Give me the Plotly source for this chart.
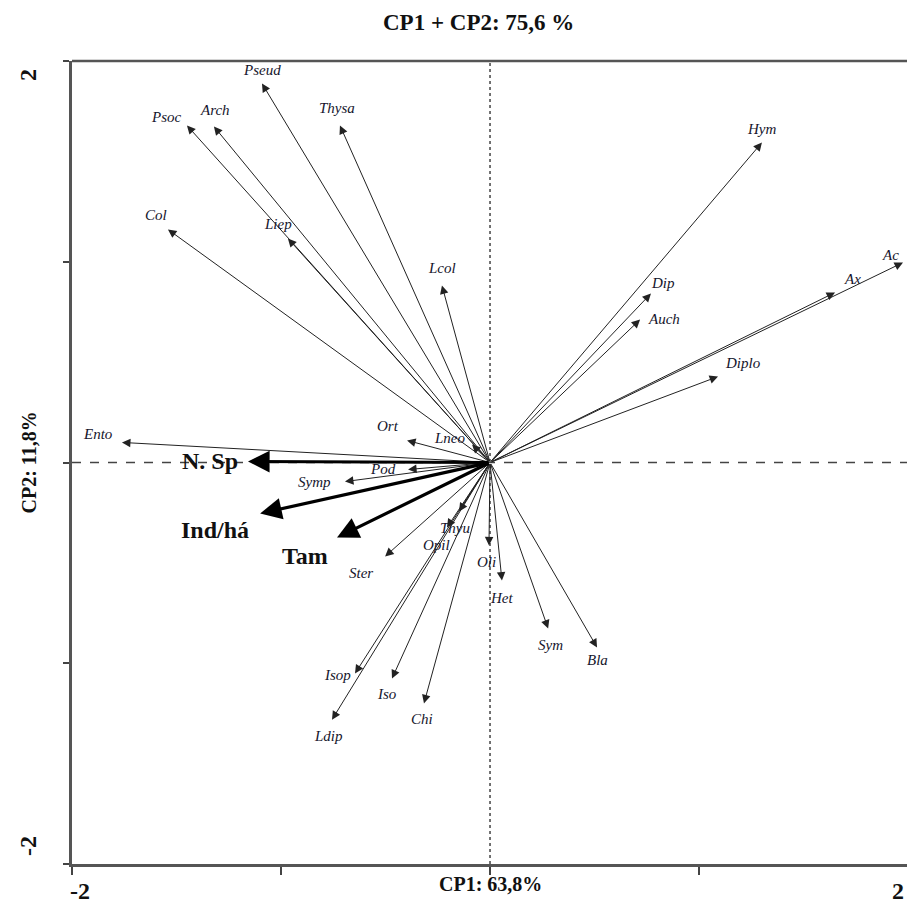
import plotly.graph_objects as go

# Taxa loadings on the first two principal components
taxa = ["Pseud", "Psoc", "Arch", "Thysa", "Col", "Liep", "Lcol", "Hym", "Dip",
        "Auch", "Ax", "Ac", "Diplo", "Ento", "Ort", "Lneo", "Pod", "Symp",
        "Ster", "Thyu", "Opil", "Oli", "Het", "Sym", "Bla", "Isop", "Iso",
        "Chi", "Ldip"]
taxa_cp1 = [-1.091, -1.450, -1.321, -0.718, -1.541, -0.967, -0.230, 1.301, 0.770,
            0.718, 1.651, 1.976, 1.091, -1.761, -0.397, -0.086, -0.392, -0.694,
            -0.502, -0.148, -0.206, -0.005, 0.057, 0.278, 0.512, -0.646, -0.469,
            -0.316, -0.756]
taxa_cp2 = [1.888, 1.679, 1.674, 1.679, 1.161, 1.116, 0.882, 1.594, 0.842,
            0.712, 0.847, 0.996, 0.428, 0.100, 0.110, 0.090, -0.035, -0.095,
            -0.468, -0.244, -0.324, -0.413, -0.588, -0.827, -0.921, -1.051, -1.076,
            -1.200, -1.281]

# Community descriptors (bold vectors)
descriptors = ["N. Sp", "Ind/há", "Tam"]
desc_cp1 = [-1.158, -1.100, -0.732]
desc_cp2 = [0.005, -0.254, -0.374]

axis_ticks = [-2, -1, 0, 1, 2]
title_text = "CP1 + CP2: 75,6 %"
x_title = "CP1: 63,8%"
y_title = "CP2: 11,8%"

# label offsets from the arrow tip, in pixels (dx right, dy down)
taxa_offsets = {
    "Pseud": (0, -13), "Psoc": (-20, -8), "Arch": (1, -16), "Thysa": (-3, -17),
    "Col": (-12, -14), "Liep": (-10, -14), "Lcol": (0, -17), "Hym": (0, -14),
    "Dip": (12, -10), "Auch": (24, -1), "Ax": (17, -13), "Ac": (-13, -8),
    "Diplo": (25, -14), "Ento": (-24, -8), "Ort": (-19, -14), "Lneo": (-22, -6),
    "Pod": (-25, -1), "Symp": (-30, 0), "Ster": (-24, 17), "Thyu": (-4, 17),
    "Opil": (-10, 17), "Oli": (-2, 17), "Het": (0, 17), "Sym": (2, 16),
    "Bla": (0, 13), "Isop": (-18, 2), "Iso": (-5, 15), "Chi": (-2, 16),
    "Ldip": (-4, 16),
}
desc_offsets = {"N. Sp": (-38, -1), "Ind/há": (-45, 17), "Tam": (-32, 18)}

SERIF = "Liberation Serif, Times New Roman, serif"
INK = "#15152c"
LINE = "#222222"
DARK = "#111111"


def text_note(text, x, y, xref, yref, size, dx=0, dy=0, angle=0):
    return dict(x=x, y=y, xref=xref, yref=yref, text=text, showarrow=False,
                xanchor="center", yanchor="middle", xshift=dx, yshift=-dy,
                textangle=angle, font=dict(family=SERIF, size=size, color=DARK))


fig = go.Figure()
# invisible trace to anchor axes
fig.add_trace(go.Scatter(x=[0], y=[0], mode="markers",
                         marker=dict(size=1, color="rgba(0,0,0,0)"),
                         hoverinfo="skip", showlegend=False))

annotations = []
for name, x, y in zip(taxa, taxa_cp1, taxa_cp2):
    annotations.append(dict(
        x=x, y=y, ax=0, ay=0, xref="x", yref="y", axref="x", ayref="y",
        text="", showarrow=True, arrowhead=2, arrowsize=1.7, arrowwidth=1,
        arrowcolor=LINE, standoff=0))
    dx, dy = taxa_offsets[name]
    annotations.append(dict(
        x=x, y=y, xref="x", yref="y", text="<i>%s</i>" % name,
        showarrow=False, xanchor="center", yanchor="middle",
        xshift=dx, yshift=-dy,
        font=dict(family=SERIF, size=15, color=INK)))

for name, x, y in zip(descriptors, desc_cp1, desc_cp2):
    annotations.append(dict(
        x=x, y=y, ax=0, ay=0, xref="x", yref="y", axref="x", ayref="y",
        text="", showarrow=True, arrowhead=2, arrowsize=1.35, arrowwidth=3.2,
        arrowcolor="#000000", standoff=0))
    dx, dy = desc_offsets[name]
    annotations.append(dict(
        x=x, y=y, xref="x", yref="y", text="<b>%s</b>" % name,
        showarrow=False, xanchor="center", yanchor="middle",
        xshift=dx, yshift=-dy,
        font=dict(family=SERIF, size=24, color=DARK)))

# title, axis titles and extreme tick labels
annotations += [
    text_note("<b>%s</b>" % title_text, 0.487, 1.0, "paper", "paper", 23, dy=-39),
    text_note("<b>%s</b>" % x_title, 0, 0, "x", "paper", 20, dy=20),
    text_note("<b>%d</b>" % axis_ticks[0], 0, 0, "paper", "paper", 24, dx=8, dy=27),
    text_note("<b>%d</b>" % axis_ticks[-1], 1, 0, "paper", "paper", 24, dx=-9, dy=27),
    text_note("<b>%s</b>" % y_title, 0, 0, "paper", "y", 20, dx=-44, angle=-90),
    text_note("<b>%d</b>" % axis_ticks[-1], 0, axis_ticks[-1], "paper", "y", 24,
              dx=-44, dy=14, angle=-90),
    text_note("<b>%d</b>" % axis_ticks[0], 0, axis_ticks[0], "paper", "y", 24,
              dx=-44, dy=-18, angle=-90),
]

shapes = [
    # dashed reference axes through the origin
    dict(type="line", xref="x", yref="paper", x0=0, x1=0, y0=0, y1=1,
         line=dict(color="#444444", width=1.5, dash="dot"), layer="below"),
    dict(type="line", xref="paper", yref="y", x0=0, x1=1, y0=0, y1=0,
         line=dict(color="#444444", width=1.5, dash="dash"), layer="below"),
    # top frame line
    dict(type="line", xref="paper", yref="paper", x0=0, x1=1, y0=1, y1=1,
         line=dict(color="#555555", width=2.5)),
]

fig.update_layout(
    width=907, height=904,
    margin=dict(l=72, r=0, t=61, b=40),
    paper_bgcolor="white", plot_bgcolor="white",
    showlegend=False,
    annotations=annotations,
    shapes=shapes,
    xaxis=dict(range=[-2, 1.995], tickvals=axis_ticks, showticklabels=False,
               ticks="outside", ticklen=8, tickwidth=1.5, tickcolor="#444444",
               showline=True, linecolor="#555555", linewidth=2.5,
               showgrid=False, zeroline=False, fixedrange=True),
    yaxis=dict(range=[-2, 2], tickvals=axis_ticks, showticklabels=False,
               ticks="outside", ticklen=6, tickwidth=1.5, tickcolor="#444444",
               showline=True, linecolor="#555555", linewidth=2.5,
               showgrid=False, zeroline=False, fixedrange=True),
)

fig.write_html("out.html")
